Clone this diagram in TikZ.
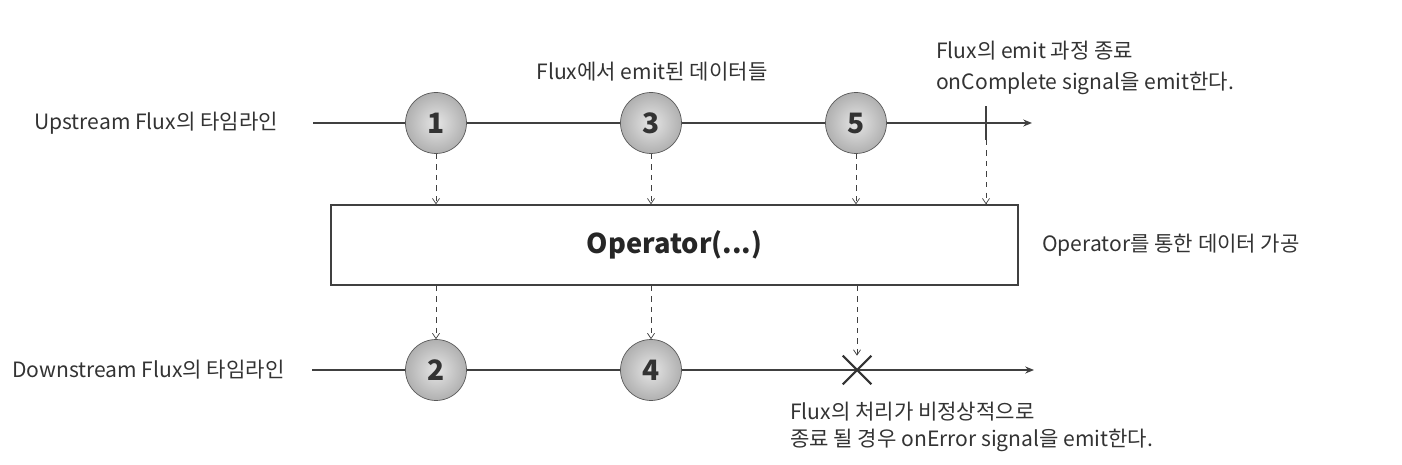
\documentclass[tikz,border=0pt]{standalone}
\usepackage{fontspec}
\setmainfont{Noto Sans CJK KR}
\usetikzlibrary{arrows.meta}
\begin{document}
\begin{tikzpicture}[x=0.02cm,y=-0.02cm,
    ball/.style={draw=black!65,circle,minimum size=1.22cm,inner sep=0pt,
      inner color=gray!20,outer color=gray!62,text=black!80,
      font=\fontsize{16}{16}\selectfont\bfseries},
    lbl/.style={font=\fontsize{12}{15.5}\selectfont,text=black!80,align=left},
    line/.style={thick,draw=black!75,-{Stealth[length=5pt,width=4pt]}},
    flow/.style={draw=black!75,dashed,-{Straight Barb[length=3pt,width=4pt]}}]

    \useasboundingbox (0,0) rectangle (1402,465);

    \node[lbl,anchor=west] (upl) at (28,123) {Upstream Flux의 타임라인};
    \node[lbl,anchor=west] (downl) at (6,370) {Downstream Flux의 타임라인};
    \node[lbl] (emitl) at (652,72) {Flux에서 emit된 데이터들};
    \node[lbl,anchor=west,font=\fontsize{12}{18}\selectfont] (donel) at (930,68) {Flux의 emit 과정 종료\\onComplete signal을 emit한다.};
    \node[lbl,anchor=west] (opl) at (1036,245) {Operator를 통한 데이터 가공};
    \node[lbl,anchor=west] (errl) at (784,427) {Flux의 처리가 비정상적으로\\종료 될 경우 onError signal을 emit한다.};

    \coordinate (us) at (313,123);
    \coordinate (ue) at (1032,123);
    \coordinate (ds) at (312,370);
    \coordinate (de) at (1034,370);
    \draw[line] (us) -- (ue);
    \draw[line] (ds) -- (de);

    \node[ball] (1) at (436,123) {1};
    \node[ball] (3) at (651,123) {3};
    \node[ball] (5) at (856,123) {5};
    \node[inner sep=0pt,minimum height=0.66cm,minimum width=0pt] (done) at (986,123) {};
    \draw[thick,black!75] (done.north) -- (done.south);

    \node[draw=black!75,thick,minimum width=13.74cm,minimum height=1.6cm,
      font=\fontsize{15.5}{15.5}\selectfont\bfseries,text=black!85] (op) at (674.5,245) {Operator(...)};

    \node[ball] (2) at (436,370) {2};
    \node[ball] (4) at (651,370) {4};
    \node[inner sep=0pt,minimum size=0.56cm] (err) at (857,370) {};
    \draw[line width=1.2pt,black!80] (err.north west) -- (err.south east) (err.north east) -- (err.south west);

    \draw[flow] (1) -- (1 |- op.north);
    \draw[flow] (3) -- (3 |- op.north);
    \draw[flow] (5) -- (5 |- op.north);
    \draw[flow] (done.south) -- (done.south |- op.north);
    \draw[flow] (2 |- op.south) -- (2);
    \draw[flow] (4 |- op.south) -- (4);
    \draw[flow] (err |- op.south) -- (err.north);

\end{tikzpicture}
\end{document}
